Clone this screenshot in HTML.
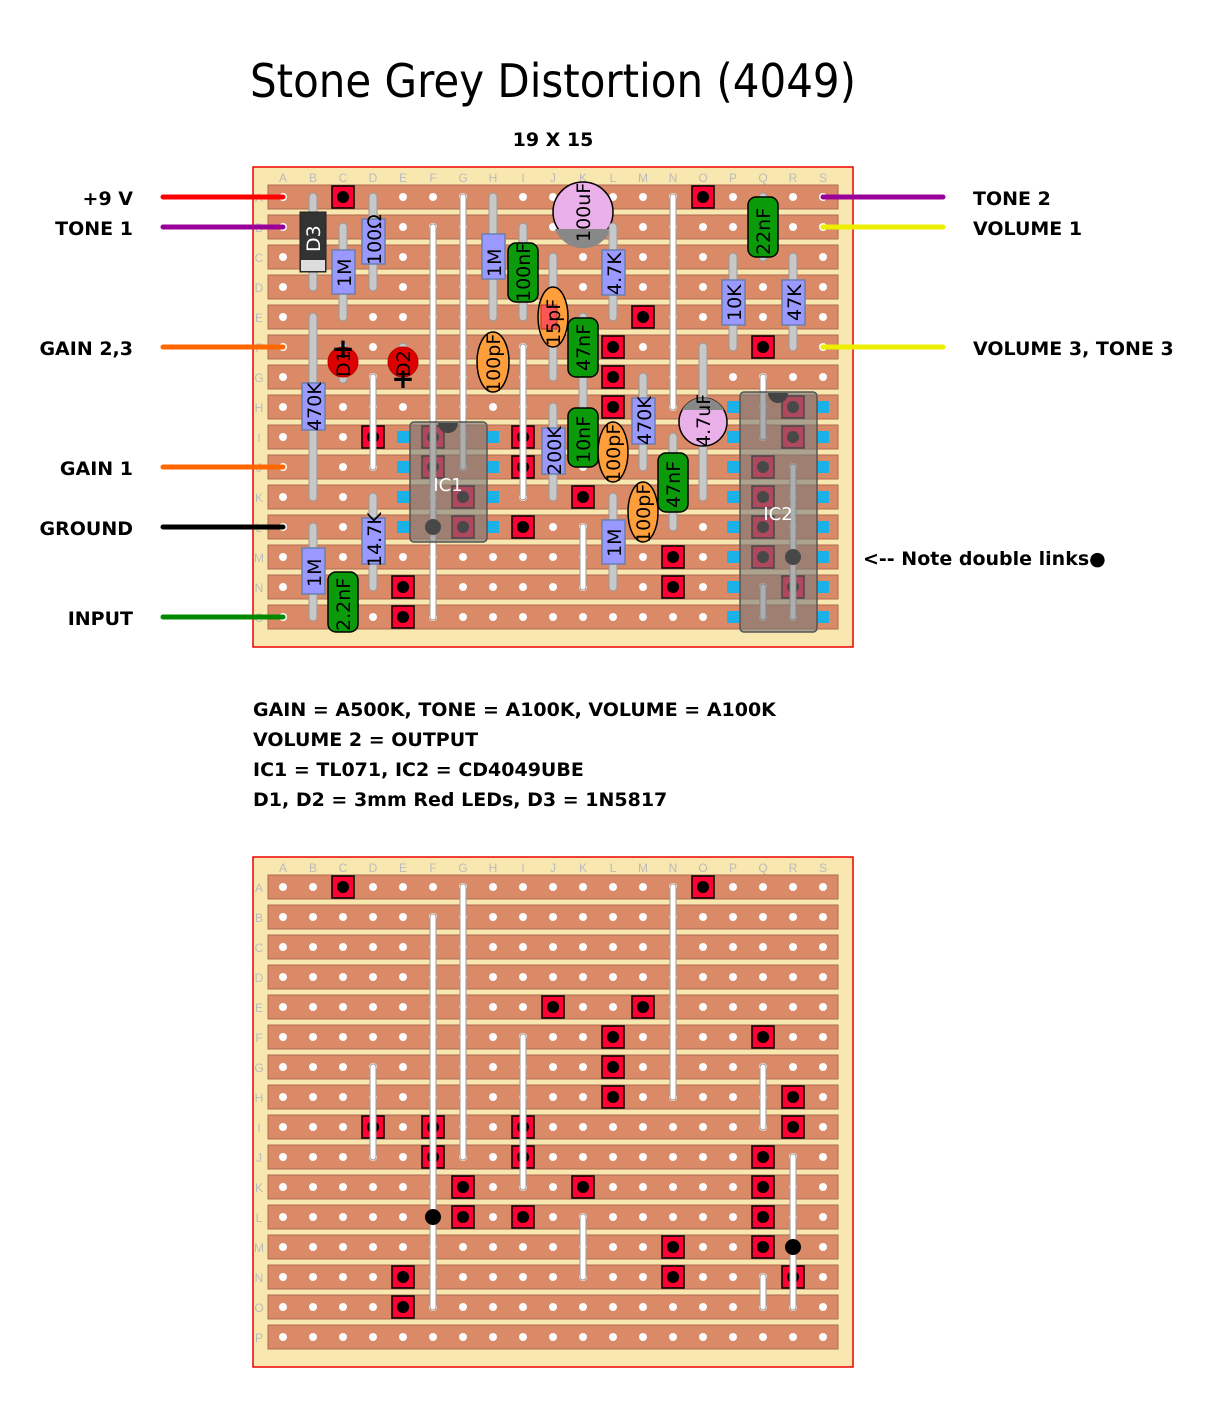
<!DOCTYPE html>
<html><head><meta charset="utf-8"><style>
body{margin:0;background:#fff;width:1225px;height:1425px;overflow:hidden}
svg{display:block}
.lbl{font-family:"DejaVu Sans","Liberation Sans",sans-serif;font-weight:bold;font-size:19px;fill:#000}
.ct{font-family:"DejaVu Sans","Liberation Sans",sans-serif;font-size:19px;fill:#000}
.lead{fill:#c8c8c8;stroke:#999;stroke-width:1}
.res{fill:#9999ff;stroke:#6b7fb0;stroke-width:1.5}
.cap{fill:#0a9a0a;stroke:#000;stroke-width:1.5}
.cer{fill:#ff9f3c;stroke:#000;stroke-width:1.5}
</style></head><body>
<svg id="s" width="1225" height="1425" xmlns="http://www.w3.org/2000/svg">
<text x="553" y="97" text-anchor="middle" font-family="DejaVu Sans,Liberation Sans,sans-serif" font-size="46" textLength="606" lengthAdjust="spacingAndGlyphs">Stone Grey Distortion (4049)</text>
<text x="553" y="146" text-anchor="middle" class="lbl" font-size="19">19 X 15</text>
<g id="b1"></g>
<g id="b2"></g>
<g stroke-width="5" stroke-linecap="round">
<line x1="163" y1="197" x2="283" y2="197" stroke="#f00"/>
<line x1="163" y1="227" x2="283" y2="227" stroke="#909"/>
<line x1="163" y1="347" x2="283" y2="347" stroke="#f60"/>
<line x1="163" y1="467" x2="283" y2="467" stroke="#f60"/>
<line x1="163" y1="527" x2="283" y2="527" stroke="#000"/>
<line x1="163" y1="617" x2="283" y2="617" stroke="#080"/>
<line x1="823" y1="197" x2="943" y2="197" stroke="#909"/>
<line x1="823" y1="227" x2="943" y2="227" stroke="#ee0"/>
<line x1="823" y1="347" x2="943" y2="347" stroke="#ee0"/>
</g>
<g class="lbl" text-anchor="end">
<text x="133" y="205">+9 V</text><text x="133" y="235">TONE 1</text>
<text x="133" y="355">GAIN 2,3</text><text x="133" y="475">GAIN 1</text>
<text x="133" y="535">GROUND</text><text x="133" y="625">INPUT</text>
</g>
<g class="lbl">
<text x="973" y="205">TONE 2</text><text x="973" y="235">VOLUME 1</text>
<text x="973" y="355">VOLUME 3, TONE 3</text>
<text x="863" y="565">&lt;-- Note double links●</text>
<text x="253" y="716">GAIN = A500K, TONE = A100K, VOLUME = A100K</text>
<text x="253" y="746">VOLUME 2 = OUTPUT</text>
<text x="253" y="776">IC1 = TL071, IC2 = CD4049UBE</text>
<text x="253" y="806">D1, D2 = 3mm Red LEDs, D3 = 1N5817</text>
</g>
<g id="comp">
<rect class="lead" x="309" y="193" width="8" height="98" rx="4"/>
<rect x="300" y="212" width="26" height="60" fill="#333" stroke="#222"/>
<rect x="301" y="260" width="24" height="11" fill="#ddd"/>
<text class="ct" style="fill:#fff" transform="translate(320,252) rotate(-90)">D3</text>
<rect class="lead" x="339" y="223" width="8" height="98" rx="4"/>
<rect class="res" x="332" y="250" width="23" height="44"/>
<text class="ct" transform="translate(351,287) rotate(-90)">1M</text>
<rect class="lead" x="369" y="193" width="8" height="98" rx="4"/>
<rect class="res" x="362" y="219" width="23" height="45"/>
<text class="ct" transform="translate(381,265) rotate(-90)">100Ω</text>
<rect class="lead" x="489" y="193" width="8" height="128" rx="4"/>
<rect class="res" x="482" y="234" width="23" height="45"/>
<text class="ct" transform="translate(501,277) rotate(-90)">1M</text>
<rect class="lead" x="519" y="223" width="8" height="98" rx="4"/>
<rect class="cap" x="508" y="243" width="30" height="59" rx="8"/>
<text class="ct" transform="translate(530,302) rotate(-90)">100nF</text>
<circle cx="583" cy="212" r="30" fill="#eab0ea" stroke="#000" stroke-width="1.5"/>
<path d="M555,229 A30,30 0 0 0 611,229 Z" fill="#888"/>
<text class="ct" transform="translate(590,242) rotate(-90)">100uF</text>
<rect class="lead" x="549" y="253" width="8" height="128" rx="4"/>
<ellipse class="cer" cx="553" cy="317" rx="15" ry="30"/>
<rect x="541" y="305" width="16" height="24" fill="#f55" stroke="#a33"/>
<text class="ct" transform="translate(560,346) rotate(-90)">15pF</text>
<rect class="lead" x="609" y="223" width="8" height="98" rx="4"/>
<rect class="res" x="602" y="250" width="23" height="45"/>
<text class="ct" transform="translate(621,295) rotate(-90)">4.7K</text>
<rect class="lead" x="759" y="193" width="8" height="68" rx="4"/>
<rect class="cap" x="748" y="197" width="30" height="60" rx="8"/>
<text class="ct" transform="translate(770,255) rotate(-90)">22nF</text>
<rect class="lead" x="729" y="253" width="8" height="98" rx="4"/>
<rect class="res" x="722" y="280" width="23" height="45"/>
<text class="ct" transform="translate(741,321) rotate(-90)">10K</text>
<rect class="lead" x="789" y="253" width="8" height="98" rx="4"/>
<rect class="res" x="782" y="280" width="23" height="45"/>
<text class="ct" transform="translate(801,321) rotate(-90)">47K</text>
<rect class="lead" x="309" y="313" width="8" height="188" rx="4"/>
<rect class="res" x="302" y="383" width="23" height="47"/>
<text class="ct" transform="translate(321,431) rotate(-90)">470K</text>
<rect class="lead" x="339" y="343" width="8" height="40" rx="4"/>
<circle cx="343" cy="362" r="15" fill="#d00" stroke="#b00"/>
<text class="ct" transform="translate(350,377) rotate(-90)">D1</text>
<text x="343" y="358" text-anchor="middle" font-size="28" font-weight="bold" font-family="DejaVu Sans,sans-serif">+</text>
<rect class="lead" x="399" y="343" width="8" height="40" rx="4"/>
<circle cx="403" cy="362" r="15" fill="#d00" stroke="#b00"/>
<text class="ct" transform="translate(410,377) rotate(-90)">D2</text>
<text x="403" y="388" text-anchor="middle" font-size="28" font-weight="bold" font-family="DejaVu Sans,sans-serif">+</text>
<ellipse class="cer" cx="493" cy="362" rx="16" ry="30"/>
<text class="ct" transform="translate(500,393) rotate(-90)">100pF</text>
<rect class="lead" x="579" y="313" width="8" height="98" rx="4"/>
<rect class="cap" x="568" y="318" width="30" height="59" rx="8"/>
<text class="ct" transform="translate(590,371) rotate(-90)">47nF</text>
<rect class="lead" x="549" y="403" width="8" height="98" rx="4"/>
<rect class="res" x="542" y="428" width="23" height="46"/>
<text class="ct" transform="translate(561,475) rotate(-90)">200K</text>
<rect class="cap" x="568" y="408" width="30" height="59" rx="8"/>
<text class="ct" transform="translate(590,463) rotate(-90)">10nF</text>
<ellipse class="cer" cx="613" cy="452" rx="15" ry="30"/>
<text class="ct" transform="translate(620,483) rotate(-90)">100pF</text>
<rect class="lead" x="639" y="373" width="8" height="98" rx="4"/>
<rect class="res" x="632" y="398" width="23" height="46"/>
<text class="ct" transform="translate(651,445) rotate(-90)">470K</text>
<rect class="lead" x="699" y="343" width="8" height="158" rx="4"/>
<circle cx="703" cy="422" r="24" fill="#eab0ea" stroke="#000" stroke-width="1.5"/>
<path d="M682,410 A24,24 0 0 1 724,410 Z" fill="#888"/>
<text class="ct" transform="translate(710,447) rotate(-90)">4.7uF</text>
<rect class="lead" x="669" y="433" width="8" height="98" rx="4"/>
<rect class="cap" x="658" y="453" width="30" height="59" rx="8"/>
<text class="ct" transform="translate(680,508) rotate(-90)">47nF</text>
<ellipse class="cer" cx="643" cy="512" rx="15" ry="30"/>
<text class="ct" transform="translate(650,543) rotate(-90)">100pF</text>
<rect class="lead" x="609" y="493" width="8" height="98" rx="4"/>
<rect class="res" x="602" y="520" width="23" height="44"/>
<text class="ct" transform="translate(621,557) rotate(-90)">1M</text>
<rect class="lead" x="369" y="493" width="8" height="98" rx="4"/>
<rect class="res" x="362" y="518" width="23" height="46"/>
<text class="ct" transform="translate(381,567) rotate(-90)">14.7K</text>
<rect class="lead" x="309" y="523" width="8" height="98" rx="4"/>
<rect class="res" x="302" y="548" width="23" height="46"/>
<text class="ct" transform="translate(321,587) rotate(-90)">1M</text>
<rect class="cap" x="328" y="572" width="30" height="60" rx="8"/>
<text class="ct" transform="translate(350,631) rotate(-90)">2.2nF</text>
<rect x="410" y="422" width="77" height="120" rx="4" fill="rgba(120,120,120,0.6)" stroke="#555" stroke-width="1.5"/>
<path d="M438,423 A10,10 0 0 0 458,423 Z" fill="#444"/>
<text x="448" y="491" text-anchor="middle" font-family="DejaVu Sans,sans-serif" font-size="18" fill="#fff">IC1</text>
<rect x="740" y="392" width="77" height="240" rx="4" fill="rgba(120,120,120,0.6)" stroke="#555" stroke-width="1.5"/>
<path d="M768,393 A10,10 0 0 0 788,393 Z" fill="#444"/>
<text x="778" y="520" text-anchor="middle" font-family="DejaVu Sans,sans-serif" font-size="18" fill="#fff">IC2</text>
</g>
</svg>
<script>
var NS="http://www.w3.org/2000/svg";
function el(p,t,a,txt){var e=document.createElementNS(NS,t);for(var k in a)e.setAttribute(k,a[k]);if(txt)e.textContent=txt;p.appendChild(e);return e;}
var cols="ABCDEFGHIJKLMNOPQRS";
var cuts={A:"CO",E:"JM",F:"LQ",G:"L",H:"LR",I:"DFIR",J:"FIQ",K:"GKQ",L:"GIQ",M:"NQ",N:"ENR",O:"E"};
var links=[["F","B","O"],["G","A","J"],["N","A","H"],["D","G","J"],["I","F","K"],["K","L","N"],["Q","G","I"],["Q","N","O"],["R","J","O"]];
function cx(c){return 283+30*cols.indexOf(c);}
function board(g,y0,n,top){
 var Y0=y0+30;
 el(g,"rect",{x:253,y:y0,width:600,height:n*30+30,fill:"#f9e7b0",stroke:"#e00","stroke-width":1.5});
 for(var i=0;i<19;i++)el(g,"text",{x:283+30*i,y:y0+15,"text-anchor":"middle","font-family":"Liberation Sans,sans-serif","font-size":12,fill:"#bbb"},cols[i]);
 for(var r=0;r<n;r++){
  var y=Y0+30*r;
  el(g,"text",{x:259,y:y+5,"text-anchor":"middle","font-family":"Liberation Sans,sans-serif","font-size":12,fill:"#bbb"},cols[r]);
  el(g,"rect",{x:268,y:y-12,width:570,height:24,fill:"#da8a67",stroke:"#b06a50"});
  for(var i=0;i<19;i++)el(g,"circle",{cx:283+30*i,cy:y,r:4,fill:"#fff"});
 }
 for(var R in cuts){var y=Y0+30*cols.indexOf(R);for(var j=0;j<cuts[R].length;j++){var x=cx(cuts[R][j]);
  el(g,"rect",{x:x-11,y:y-11,width:22,height:22,fill:"#f03",stroke:"#000","stroke-width":1.5});
  el(g,"circle",{cx:x,cy:y,r:6,fill:"#000"});}}
 links.forEach(function(l){var x=cx(l[0]);
  el(g,"line",{x1:x,y1:Y0+30*cols.indexOf(l[1]),x2:x,y2:Y0+30*cols.indexOf(l[2]),stroke:"#999","stroke-width":7,"stroke-linecap":"round"});
  el(g,"line",{x1:x,y1:Y0+30*cols.indexOf(l[1]),x2:x,y2:Y0+30*cols.indexOf(l[2]),stroke:"#fff","stroke-width":5,"stroke-linecap":"round"});});
 el(g,"circle",{cx:433,cy:Y0+30*11,r:8,fill:"#000"});
 el(g,"circle",{cx:793,cy:Y0+30*12,r:8,fill:"#000"});
 if(top){
  ["I","J","K","L"].forEach(function(R){var y=Y0+30*cols.indexOf(R);[403,493].forEach(function(x){el(g,"rect",{x:x-6,y:y-6,width:12,height:12,fill:"#1ab0e8"});});});
  "HIJKLMNO".split("").forEach(function(R){var y=Y0+30*cols.indexOf(R);[733,823].forEach(function(x){el(g,"rect",{x:x-6,y:y-6,width:12,height:12,fill:"#1ab0e8"});});});
 }
}
board(document.getElementById("b1"),167,15,true);
board(document.getElementById("b2"),857,16,false);
</script>
</body></html>
